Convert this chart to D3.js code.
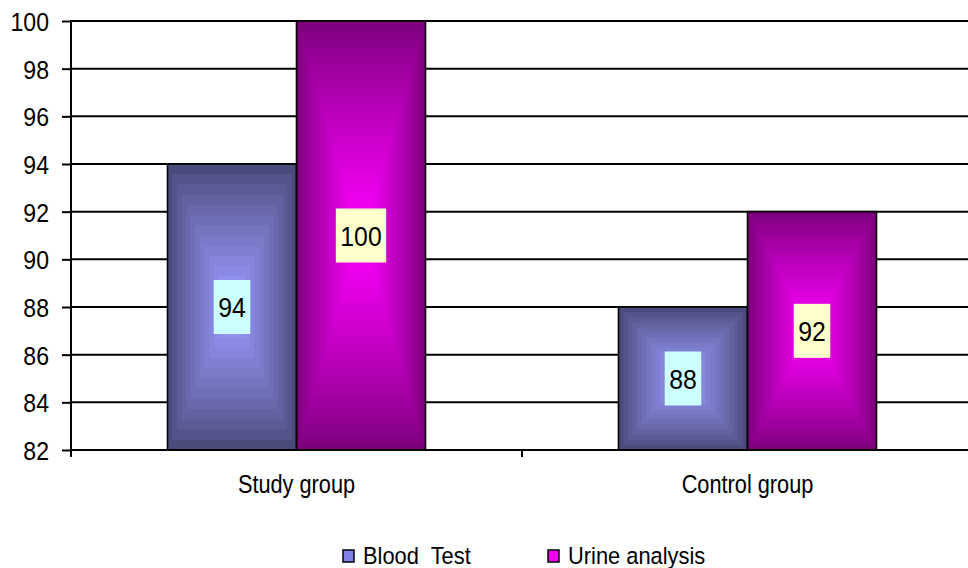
<!DOCTYPE html>
<html><head><meta charset="utf-8">
<script src="https://cdn.jsdelivr.net/npm/d3@7"></script>
<style>
body{margin:0;background:#fff}
svg{display:block;background:#fff}
text{font-family:"Liberation Sans",Arial,sans-serif;fill:#000}
</style>
</head><body>
<svg id="c" width="968" height="568"></svg>
<script>
// ---- data ----
const categories = ["Study group", "Control group"];
const seriesNames = ["Blood  Test", "Urine analysis"];
const bloodTest = [94, 88];
const urineAnalysis = [100, 92];
const yTicks = [82, 84, 86, 88, 90, 92, 94, 96, 98, 100];

(function () {
const seriesValues = [bloodTest, urineAnalysis];
const edgeColors = ["#4b4b7b", "#7a007a"];
const centerColors = ["#9a9aff", "#ff00ff"];
const labelFills = ["#ccffff", "#ffffcc"];
const steps = [14, 40];
const SX = 0.87;

const svg = d3.select("#c");
const W = 968;
const pLeft = 71, pRight = 973, pTop = 21, pBottom = 450;

const x0 = d3.scaleBand().domain(categories).range([pLeft, pRight]).padding(0);
const x1 = d3.scaleBand().domain(seriesNames).range([0, x0.bandwidth()])
  .paddingInner(0).paddingOuter(0.748);
const y = d3.scaleLinear().domain([82, 100]).range([pBottom, pTop]);

function stext(g, str, x, yy, size, anchor, sx) {
  return g.append("text")
    .attr("transform", `translate(${x},${yy}) scale(${sx},1)`)
    .attr("text-anchor", anchor)
    .style("font-size", size + "px")
    .text(str);
}

// gridlines
svg.append("g").selectAll("line").data(yTicks.filter(t => t !== 82)).join("line")
  .attr("x1", pLeft).attr("x2", W)
  .attr("y1", d => y(d)).attr("y2", d => y(d))
  .attr("stroke", "#000").attr("stroke-width", 2);

// bars with rectangular "from center" gradient
const bars = [];
categories.forEach((c, ci) => {
  seriesNames.forEach((s, si) => {
    bars.push({c, s, si, v: seriesValues[si][ci]});
  });
});

const barG = svg.append("g");
bars.forEach(b => {
  const bx = x0(b.c) + x1(b.s), bw = x1.bandwidth();
  const by = y(b.v), bh = y(82) - y(b.v);
  const g = barG.append("g");
  const n = steps[b.si];
  const col = d3.interpolateRgb(edgeColors[b.si], centerColors[b.si]);
  const ks = d3.range(n);
  g.selectAll("rect").data(ks).join("rect")
    .attr("x", k => bx + (k / n) * bw / 2)
    .attr("y", k => by + (k / n) * bh / 2)
    .attr("width", k => bw * (1 - k / n))
    .attr("height", k => bh * (1 - k / n))
    .attr("fill", k => col(Math.pow(k / (n - 1), 0.85)));
  g.append("rect").attr("x", bx).attr("y", by).attr("width", bw).attr("height", bh)
    .attr("fill", "none").attr("stroke", "#000").attr("stroke-width", 1.6);
});

// x axis line + ticks
svg.append("line").attr("x1", pLeft).attr("x2", W).attr("y1", pBottom).attr("y2", pBottom)
  .attr("stroke", "#000").attr("stroke-width", 2);
svg.append("g").selectAll("line").data(d3.range(categories.length + 1)).join("line")
  .attr("x1", i => pLeft + i * x0.step()).attr("x2", i => pLeft + i * x0.step())
  .attr("y1", pBottom).attr("y2", pBottom + 7)
  .attr("stroke", "#000").attr("stroke-width", 2);

// y axis
const yAxis = d3.axisLeft(y).tickValues(yTicks).tickSize(9).tickPadding(13);
const ya = svg.append("g").attr("transform", `translate(${pLeft},0)`).call(yAxis);
ya.select(".domain").remove();
ya.selectAll(".tick line").attr("stroke", "#000").attr("stroke-width", 2);
ya.selectAll(".tick text")
  .attr("x", -22 / SX).attr("dy", "0.36em")
  .attr("transform", `scale(${SX},1)`)
  .style("font-size", "26.5px")
  .style("font-family", '"Liberation Sans",Arial,sans-serif')
  .attr("fill", "#000");
svg.append("line").attr("x1", pLeft).attr("x2", pLeft).attr("y1", pTop - 1).attr("y2", pBottom + 7)
  .attr("stroke", "#000").attr("stroke-width", 2);

// category labels
categories.forEach(c => {
  stext(svg, c, x0(c) + x0.bandwidth() / 2, 493, 25, "middle", SX);
});

// data labels
bars.forEach(b => {
  const cx = x0(b.c) + x1(b.s) + x1.bandwidth() / 2;
  const cy = (y(b.v) + y(82)) / 2;
  const g = svg.append("g");
  const r = g.append("rect");
  const t = stext(g, String(b.v), cx, cy, 28.5, "middle", SX).attr("dy", "0.36em");
  const tw = t.node().getComputedTextLength() * SX;
  r.attr("x", cx - tw / 2 - 4.5).attr("y", cy - 27).attr("width", tw + 9).attr("height", 54)
    .attr("fill", labelFills[b.si]);
});

// legend
const legendX = [343, 548];
seriesNames.forEach((s, i) => {
  const g = svg.append("g");
  g.append("rect").attr("x", legendX[i]).attr("y", 550).attr("width", 11).attr("height", 12)
    .attr("fill", i === 0 ? "#8080e6" : "#ee00ee").attr("stroke", "#000").attr("stroke-width", 1.5);
  stext(g, s, legendX[i] + 20, 564, 23.5, "start", 0.93).style("white-space", "pre");
});
})();
</script>
</body></html>
